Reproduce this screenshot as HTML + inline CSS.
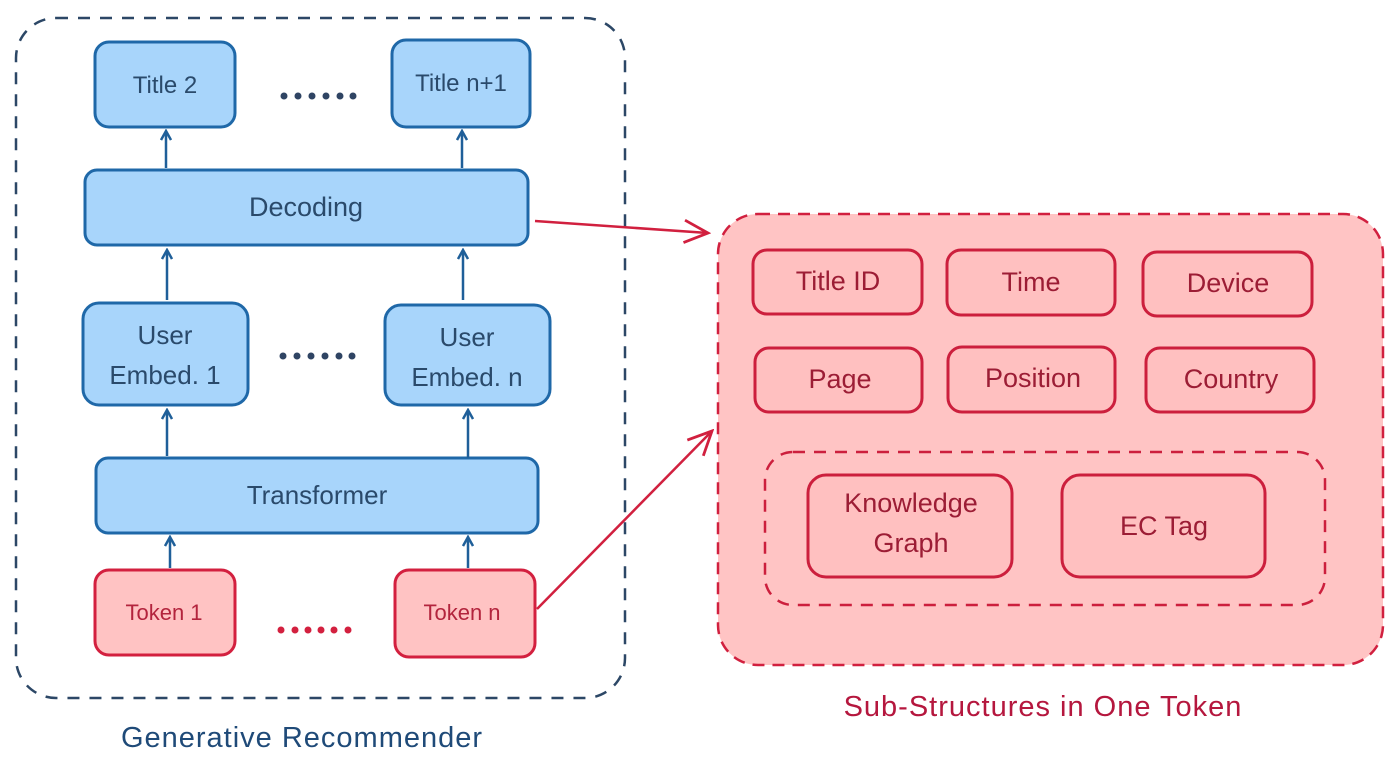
<!DOCTYPE html>
<html><head><meta charset="utf-8"><style>
html,body{margin:0;padding:0;background:#fff;}
svg{display:block;}
text{font-family:"Liberation Sans",sans-serif;}
</style></head><body>
<svg width="1400" height="776" viewBox="0 0 1400 776" xmlns="http://www.w3.org/2000/svg">
<defs>
<marker id="ab" viewBox="0 0 12 12" refX="10" refY="6" markerWidth="12" markerHeight="12" markerUnits="userSpaceOnUse" orient="auto"><path d="M1,1 L10,6 L1,11" fill="none" stroke="#1f5f99" stroke-width="2.5"/></marker>
<marker id="ar" viewBox="0 0 20 20" refX="18" refY="10" markerWidth="28" markerHeight="28" markerUnits="userSpaceOnUse" orient="auto"><path d="M1,2 L18,10 L1,18" fill="none" stroke="#d1203f" stroke-width="2"/></marker>
</defs>
<!-- left dashed container -->
<rect x="16" y="18" width="609" height="680" rx="40" fill="none" stroke="#2c4766" stroke-width="2.5" stroke-dasharray="12 10"/>
<!-- blue boxes -->
<g fill="#a8d5fb" stroke="#1f68a8" stroke-width="3">
<rect x="95" y="42" width="140" height="85" rx="14"/>
<rect x="392" y="40" width="138" height="87" rx="14"/>
<rect x="85" y="170" width="443" height="75" rx="12"/>
<rect x="83" y="303" width="165" height="102" rx="16"/>
<rect x="385" y="305" width="165" height="100" rx="16"/>
<rect x="96" y="458" width="442" height="75" rx="12"/>
</g>
<g fill="#ffc3c3" stroke="#d3203f" stroke-width="3">
<rect x="95" y="570" width="140" height="85" rx="14"/>
<rect x="395" y="570" width="140" height="87" rx="14"/>
</g>
<!-- arrows blue -->
<g stroke="#1f5f99" stroke-width="2.5" marker-end="url(#ab)">
<line x1="166" y1="168" x2="166" y2="131"/>
<line x1="462" y1="168" x2="462" y2="131"/>
<line x1="167" y1="300" x2="167" y2="250"/>
<line x1="463" y1="300" x2="463" y2="250"/>
<line x1="167" y1="456" x2="167" y2="410"/>
<line x1="468" y1="458" x2="468" y2="410"/>
<line x1="170" y1="568" x2="170" y2="537"/>
<line x1="468" y1="568" x2="468" y2="537"/>
</g>
<!-- dots -->
<g fill="#2f4463">
<circle cx="284" cy="96" r="3.5"/><circle cx="298" cy="96" r="3.5"/><circle cx="312" cy="96" r="3.5"/><circle cx="326" cy="96" r="3.5"/><circle cx="340" cy="96" r="3.5"/><circle cx="353" cy="96" r="3.5"/>
<circle cx="283" cy="356" r="3.5"/><circle cx="297" cy="356" r="3.5"/><circle cx="311" cy="356" r="3.5"/><circle cx="325" cy="356" r="3.5"/><circle cx="339" cy="356" r="3.5"/><circle cx="352" cy="356" r="3.5"/>
</g>
<g fill="#d3203f">
<circle cx="281" cy="630" r="3.5"/><circle cx="295" cy="630" r="3.5"/><circle cx="308" cy="630" r="3.5"/><circle cx="321" cy="630" r="3.5"/><circle cx="334" cy="630" r="3.5"/><circle cx="348" cy="630" r="3.5"/>
</g>
<!-- blue text -->
<g fill="#2a4a6b" font-size="24" text-anchor="middle">
<text x="165" y="93">Title 2</text>
<text x="461" y="91">Title n+1</text>
<text x="306" y="216" font-size="27">Decoding</text>
<text x="165" y="344" font-size="26">User</text>
<text x="165" y="384" font-size="26">Embed. 1</text>
<text x="467" y="346" font-size="26">User</text>
<text x="467" y="386" font-size="26">Embed. n</text>
<text x="317" y="504" font-size="26">Transformer</text>
</g>
<g fill="#b3243d" font-size="22" text-anchor="middle">
<text x="164" y="620">Token 1</text>
<text x="462" y="620">Token n</text>
</g>
<!-- right container -->
<rect x="718" y="214" width="665" height="451" rx="40" fill="#ffc4c4" stroke="#d1203f" stroke-width="2.5" stroke-dasharray="12 8"/>
<g fill="#ffc0c0" stroke="#cc1f3d" stroke-width="3">
<rect x="753" y="250" width="169" height="64" rx="14"/>
<rect x="947" y="250" width="168" height="65" rx="14"/>
<rect x="1143" y="252" width="169" height="64" rx="14"/>
<rect x="755" y="348" width="167" height="64" rx="14"/>
<rect x="948" y="347" width="167" height="65" rx="14"/>
<rect x="1146" y="348" width="168" height="64" rx="14"/>
<rect x="808" y="475" width="204" height="102" rx="18"/>
<rect x="1062" y="475" width="203" height="102" rx="18"/>
</g>
<rect x="765" y="452" width="560" height="153" rx="28" fill="none" stroke="#cc1f3d" stroke-width="2.5" stroke-dasharray="12 9"/>
<g fill="#9c1d35" font-size="27" text-anchor="middle">
<text x="838" y="290">Title ID</text>
<text x="1031" y="291">Time</text>
<text x="1228" y="292">Device</text>
<text x="840" y="388">Page</text>
<text x="1033" y="387">Position</text>
<text x="1231" y="388">Country</text>
<text x="911" y="512">Knowledge</text>
<text x="911" y="552">Graph</text>
<text x="1164" y="535">EC Tag</text>
</g>
<!-- red arrows -->
<g stroke="#d1203f" stroke-width="2.5" fill="none" marker-end="url(#ar)">
<line x1="535" y1="221" x2="708" y2="233"/>
<line x1="537" y1="609" x2="712" y2="431"/>
</g>
<text x="302" y="747" fill="#1f4a78" font-size="29" text-anchor="middle" letter-spacing="1">Generative Recommender</text>
<text x="1043" y="716" fill="#b5173e" font-size="29" text-anchor="middle" letter-spacing="1">Sub-Structures in One Token</text>
</svg>
</body></html>
